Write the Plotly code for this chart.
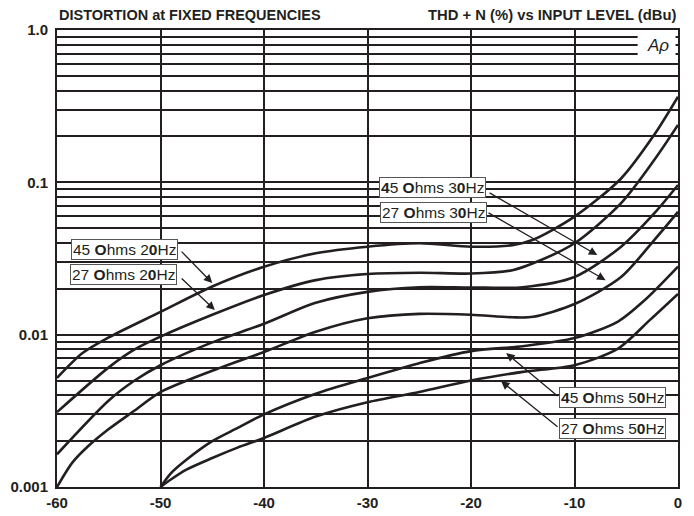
import math
import plotly.graph_objects as go

# ---- data ----
x_45_20 = [-60, -57.5, -55, -50, -45, -40, -35, -30, -25, -20, -16, -14, -10, -5.5, -2.3, 0]
y_45_20 = [0.0052, 0.0076, 0.0096, 0.0141, 0.0207, 0.0279, 0.0342, 0.0378, 0.0398, 0.0378, 0.0387, 0.042, 0.0595, 0.106, 0.205, 0.365]

x_27_20 = [-60, -55, -52.5, -50, -45, -40, -35, -30, -25, -20, -16, -14, -10, -5.5, -2.3, 0]
y_27_20 = [0.0031, 0.0061, 0.0080, 0.0097, 0.0135, 0.0182, 0.0228, 0.0250, 0.0255, 0.0252, 0.0265, 0.0294, 0.0398, 0.073, 0.14, 0.238]

x_45_30 = [-60, -55, -52.5, -50, -45, -40, -35, -30, -25, -20, -15, -10, -5.5, -2.3, 0]
y_45_30 = [0.00164, 0.0037, 0.0050, 0.0063, 0.0089, 0.0118, 0.0162, 0.0191, 0.0205, 0.0204, 0.0205, 0.0239, 0.0378, 0.0625, 0.096]

x_27_30 = [-60, -58.5, -57, -55, -52.5, -50, -45, -40, -35, -30, -25, -20, -16, -14, -10, -5.5, -2.3, 0]
y_27_30 = [0.001, 0.00145, 0.00185, 0.0024, 0.00318, 0.0042, 0.0058, 0.0077, 0.01045, 0.0128, 0.0137, 0.0135, 0.0130, 0.0131, 0.0159, 0.0239, 0.0418, 0.064]

x_45_50 = [-50, -49, -47.5, -45, -42.5, -40, -35, -30, -25, -20, -15, -10, -5.8, -3.2, 0]
y_45_50 = [0.001, 0.00123, 0.00151, 0.0020, 0.00245, 0.0030, 0.0041, 0.0052, 0.0065, 0.0078, 0.0084, 0.0095, 0.0122, 0.0169, 0.028]

x_27_50 = [-50, -49, -47.5, -45, -42.5, -40, -35, -30, -25, -20, -15, -10, -5.8, -2.7, 0]
y_27_50 = [0.001, 0.00112, 0.0013, 0.00155, 0.00182, 0.0021, 0.0029, 0.0036, 0.0042, 0.0050, 0.0057, 0.0063, 0.0081, 0.0125, 0.0185]

x_ticks = [-60, -50, -40, -30, -20, -10, 0]
x_tick_labels = ["-60", "-50", "-40", "-30", "-20", "-10", "0"]
y_ticks = [0.001, 0.01, 0.1, 1.0]
y_tick_labels = ["0.001", "0.01", "0.1", "1.0"]
y_minor = [m * d for d in (0.001, 0.01, 0.1) for m in range(2, 10)]

# label text, box centre (x, value), arrow tail (x, value), arrow tip (x, value)
labels = [
    ("45 <b>O</b>hms 2<b>0</b>Hz", (-53.45, 0.0365), (-48.1, 0.0359), (-45.0, 0.0218)),
    ("27 <b>O</b>hms 2<b>0</b>Hz", (-53.55, 0.0250), (-48.1, 0.0239), (-44.75, 0.0145)),
    ("<b>4</b>5 <b>O</b>hms 3<b>0</b>Hz", (-23.71, 0.0918), (-18.35, 0.0864), (-7.8, 0.0333)),
    ("27 <b>O</b>hms 3<b>0</b>Hz", (-23.67, 0.0638), (-18.45, 0.0638), (-7.0, 0.0228)),
    ("<b>4</b>5 <b>O</b>hms 5<b>0</b>Hz", (-6.35, 0.00384), (-11.5, 0.00389), (-16.6, 0.00757)),
    ("27 <b>O</b>hms 5<b>0</b>Hz", (-6.30, 0.00242), (-11.5, 0.00244), (-17.1, 0.00496)),
]

FONT = "Liberation Sans, Arial, sans-serif"
INK = "#231f20"

fig = go.Figure()
series = [
    ("45 Ohms 20Hz", x_45_20, y_45_20),
    ("27 Ohms 20Hz", x_27_20, y_27_20),
    ("45 Ohms 30Hz", x_45_30, y_45_30),
    ("27 Ohms 30Hz", x_27_30, y_27_30),
    ("45 Ohms 50Hz", x_45_50, y_45_50),
    ("27 Ohms 50Hz", x_27_50, y_27_50),
]
for name, xs, ys in series:
    fig.add_trace(go.Scatter(
        x=xs, y=ys, mode="lines", name=name, showlegend=False,
        line=dict(color=INK, width=2.6, shape="spline", smoothing=0.8),
    ))

annotations = []
for text, box, tail, tip in labels:
    annotations.append(dict(
        x=box[0], y=math.log10(box[1]), xref="x", yref="y", text=text,
        showarrow=False, font=dict(family=FONT, size=15.5, color=INK),
        bgcolor="white", bordercolor="#555555", borderwidth=1, borderpad=1,
        xanchor="center", yanchor="middle",
    ))
    annotations.append(dict(
        x=tip[0], y=math.log10(tip[1]), xref="x", yref="y",
        ax=tail[0], ay=math.log10(tail[1]), axref="x", ayref="y",
        text="", showarrow=True, arrowhead=2, arrowsize=1.3, arrowwidth=1.3,
        arrowcolor=INK,
    ))

annotations.append(dict(
    x=0, y=1.033, xref="paper", yref="paper", xanchor="left", yanchor="middle",
    text="DISTORTION at FIXED FREQUENCIES", showarrow=False,
    font=dict(family=FONT, size=14.5, color=INK, weight="bold"),
))
annotations.append(dict(
    x=1, y=1.033, xref="paper", yref="paper", xanchor="right", yanchor="middle",
    text="THD + N (%) vs INPUT LEVEL (dBu)", showarrow=False,
    font=dict(family=FONT, size=14.8, color=INK, weight="bold"),
))
annotations.append(dict(
    x=0.968, y=0.967, xref="x domain", yref="y domain", xanchor="center", yanchor="middle",
    text="<i>Aρ</i>", showarrow=False, font=dict(family=FONT, size=17, color=INK),
))

fig.add_shape(type="rect", xref="x domain", yref="y domain", x0=0.935, x1=0.996, y0=0.935, y1=0.997,
              fillcolor="white", line=dict(width=0), layer="above")

axis_font = dict(family=FONT, size=15, color=INK, weight="bold")
# the page body adds an 8px offset, so the figure is sized to fit inside the window
fig.update_layout(
    width=686, height=508,
    margin=dict(l=49, r=16, t=22, b=29, autoexpand=False),
    paper_bgcolor="white", plot_bgcolor="white",
    annotations=annotations,
    xaxis=dict(
        range=[-60, 0], tickvals=x_ticks, ticktext=x_tick_labels, automargin=False,
        showgrid=True, gridcolor=INK, gridwidth=2, zeroline=False,
        showline=True, linecolor=INK, linewidth=2, mirror=True,
        ticks="", tickfont=axis_font, ticklabelstandoff=1,
    ),
    yaxis=dict(
        type="log", range=[-3, 0], tickvals=y_ticks, ticktext=y_tick_labels, automargin=False,
        showgrid=True, gridcolor=INK, gridwidth=2, zeroline=False,
        showline=True, linecolor=INK, linewidth=2, mirror=True,
        ticks="", tickfont=axis_font, ticklabelstandoff=4,
        minor=dict(tickvals=y_minor, showgrid=True, gridcolor=INK, gridwidth=2, ticks=""),
    ),
)

fig.write_html("out.html")
